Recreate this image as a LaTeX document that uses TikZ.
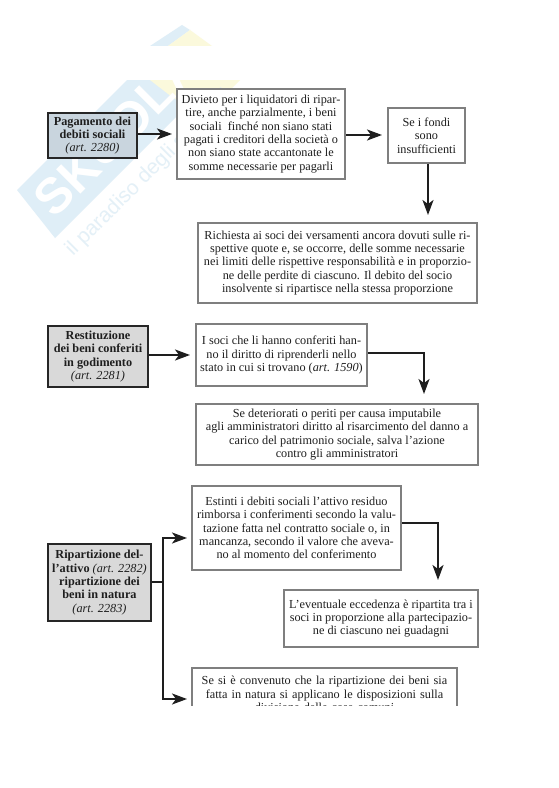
\documentclass[tikz,border=0pt]{standalone}
\usepackage{fontspec}
\setmainfont{Liberation Serif}
\setsansfont{Liberation Sans}
\usetikzlibrary{arrows.meta}
\definecolor{wmblue}{HTML}{DFEEF7}
\definecolor{wmyellow}{HTML}{FBF9DC}
\definecolor{wmtext}{HTML}{E4F0F7}
\definecolor{boxgray}{HTML}{7F7F7F}
\definecolor{headfill}{HTML}{D9D9D9}
\definecolor{headblue}{HTML}{C9D5DE}
\definecolor{ink}{HTML}{1E1E1E}
\tikzset{
  x=1bp,y=-1bp,
  basebox/.style={rectangle,inner sep=0pt,align=center,font=\fontsize{12.25bp}{13.3bp}\selectfont,text=ink},
  textbox/.style={basebox,draw=boxgray,line width=2bp,fill=white},
  headbox/.style={basebox,draw=black!85,line width=1.2bp,fill=headfill},
  conn/.style={draw=ink,line width=2bp,-{Stealth[length=15bp,width=11bp,inset=4bp]}},
  plainconn/.style={draw=ink,line width=2bp},
  wmlabel/.style={rotate=45,text=wmtext,font=\sffamily\fontsize{21bp}{23bp}\selectfont},
  wmbig/.style={rotate=45,text=white,anchor=west,font=\sffamily\bfseries\fontsize{50bp}{52bp}\selectfont}
}
\newcommand{\boxat}[7][]{\node[#2,minimum width=#5bp-#3bp,minimum height=#6bp-#4bp,#1] (#7) at ({(#3+#5)/2},{(#4+#6)/2})}
\begin{document}
\begin{tikzpicture}
\useasboundingbox (0,0) rectangle (559,788);
\fill[white] (0,0) rectangle (559,788);
% watermark
\fill[wmblue] (150,46) -- (182,25) -- (190,30) -- (168,46) -- cycle;
\fill[wmyellow] (168,46) -- (190,30) -- (212,46) -- cycle;
\fill[wmblue] (17,190) -- (127,80) -- (213,80) -- (55,238) -- cycle;
\fill[wmyellow] (150,80) -- (240,80) -- (205,115) -- (172,97) -- cycle;
\begin{scope}
\clip (0,80) rectangle (559,300);
\node[wmbig] (wm) at (40,210) {SKUOLA};
\end{scope}
\node[wmlabel] (wmsub) at (149,173) {il paradiso degli studenti};
% boxes
\boxat[fill=headblue]{headbox}{48}{113}{137}{158}{pag} {\textbf{Pagamento dei}\\\textbf{debiti sociali}\\\textit{(art. 2280)}};
\boxat{textbox}{177}{89}{345}{179}{div} {Divieto per i liquidatori di ripar-\\tire, anche parzialmente, i beni\\sociali \ finché non siano stati\\pagati i creditori della società o\\non siano state accantonate le\\somme necessarie per pagarli};
\boxat{textbox}{388}{108}{465}{163}{fon} {Se i fondi\\sono\\insufficienti};
\boxat{textbox}{198}{223}{477}{303}{ric} {Richiesta ai soci dei versamenti ancora dovuti sulle ri-\\spettive quote e, se occorre, delle somme necessarie\\nei limiti delle rispettive responsabilità e in proporzio-\\ne delle perdite di ciascuno. Il debito del socio\\insolvente si ripartisce nella stessa proporzione};
\boxat{headbox}{48}{326}{148}{387}{res} {\textbf{Restituzione}\\\textbf{dei beni conferiti}\\\textbf{in godimento}\\\textit{(art. 2281)}};
\boxat{textbox}{196}{324}{367}{386}{soc} {I soci che li hanno conferiti han-\\no il diritto di riprenderli nello\\stato in cui si trovano (\textit{art. 1590})};
\boxat{textbox}{196}{404}{478}{465}{det} {Se deteriorati o periti per causa imputabile\\agli amministratori diritto al risarcimento del danno a\\carico del patrimonio sociale, salva l’azione\\contro gli amministratori};
\boxat{headbox}{48}{544}{151}{621}{rip} {\textbf{Ripartizione del-}\\\textbf{l’attivo} \textit{(art. 2282)}\\\textbf{ripartizione dei}\\\textbf{beni in natura}\\\textit{(art. 2283)}};
\boxat{textbox}{192}{486}{401}{570}{est} {Estinti i debiti sociali l’attivo residuo\\rimborsa i conferimenti secondo la valu-\\tazione fatta nel contratto sociale o, in\\mancanza, secondo il valore che aveva-\\no al momento del conferimento};
\boxat{textbox}{284}{590}{478}{647}{eve} {L’eventuale eccedenza è ripartita tra i\\soci in proporzione alla partecipazio-\\ne di ciascuno nei guadagni};
\boxat{textbox}{192}{668}{457}{740}{nat} {};
\node[basebox,anchor=north,text width=265bp] (nattext) at (324.5,676) {Se si è convenuto che la ripartizione dei beni sia\\fatta in natura si applicano le disposizioni sulla\\divisione delle cose comuni};
% connector end points
\coordinate (t1) at (172,134);
\coordinate (t2) at (382,135);
\coordinate (t3) at (428,215);
\coordinate (t4) at (190,355);
\coordinate (t5) at (424,394);
\coordinate (t6) at (187,538);
\coordinate (t7) at (187,699);
\coordinate (t8) at (438,580);
\coordinate (s2) at (163,582);
\draw[conn] (pag.east |- t1) -- (t1);
\draw[conn] (div.east |- t2) -- (t2);
\draw[conn] (fon.south -| t3) -- (t3);
\draw[conn] (res.east |- t4) -- (t4);
\draw[conn] (soc.east |- 0,353) -| (t5);
\draw[conn] (est.east |- 0,523) -| (t8);
\draw[plainconn] (rip.east |- s2) -- (s2);
\draw[conn] (s2) |- (t6);
\draw[conn] (s2) |- (t7);
% page cut
\fill[white] (0,705.5) rectangle (559,788);
\end{tikzpicture}
\end{document}
